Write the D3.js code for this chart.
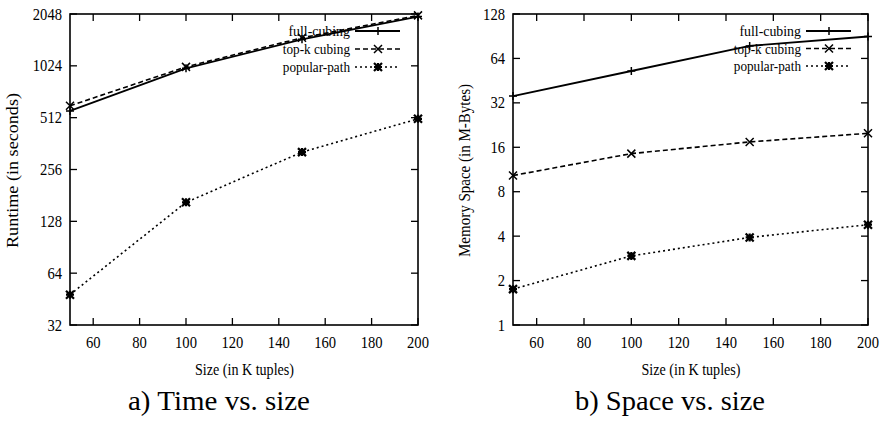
<!DOCTYPE html>
<html><head><meta charset="utf-8">
<script src="https://cdn.jsdelivr.net/npm/d3@7"></script>
<style>body{margin:0;background:#fff}svg{display:block}text{font-family:"Liberation Serif","Times New Roman",serif;fill:#000}</style>
</head><body><svg id="c" width="882" height="421"></svg>
<script>
const sizes = [50, 100, 150, 200];
const seriesNames = ["full-cubing", "top-k cubing", "popular-path"];
const timeFull = [560, 990, 1460, 1980];
const timeTopK = [600, 1010, 1490, 2010];
const timePopular = [48, 165, 323, 504];
const spaceFull = [35.6, 52.6, 77.8, 90.1];
const spaceTopK = [10.3, 14.5, 17.4, 19.9];
const spacePopular = [1.75, 2.94, 3.92, 4.78];
const xTicks = [60, 80, 100, 120, 140, 160, 180, 200];
const timeTicks = [32, 64, 128, 256, 512, 1024, 2048];
const spaceTicks = [1, 2, 4, 8, 16, 32, 64, 128];

const svg = d3.select("#c");
const dashes = [null, "5,3", "2,3"];
const markers = ["plus", "cross", "star"];

function marker(g, type, x, y) {
  const s = 4;
  let p = "";
  if (type === "plus") p = `M${x-s},${y}H${x+s}M${x},${y-s}V${y+s}`;
  else if (type === "cross") p = `M${x-s},${y-s}L${x+s},${y+s}M${x-s},${y+s}L${x+s},${y-s}`;
  else p = `M${x-s},${y-s}L${x+s},${y+s}M${x-s},${y+s}L${x+s},${y-s}M${x-s},${y}H${x+s}M${x},${y-s}V${y+s}`;
  g.append("path").attr("d", p).attr("stroke", "#000").attr("stroke-width", type === "star" ? 2.2 : 1.5).attr("fill", "none");
}

function tickText(g, x, y, anchor, t) {
  const s = String(t);
  g.append("text").attr("x", x).attr("y", y).attr("text-anchor", anchor).attr("font-size", 16)
    .attr("textLength", s.length * 7.3).attr("lengthAdjust", "spacingAndGlyphs").text(s);
}

function chart(cfg) {
  const {left, right, top, bottom, yDomain, yTicks, data, yTitle, yTitleLen, yTitleX, caption, captionLen, captionX, legendEnd, legendY, legendDy} = cfg;
  const x = d3.scaleLinear().domain([50, 200]).range([left, right]);
  const y = d3.scaleLog().base(2).domain(yDomain).range([bottom, top]);
  const g = svg.append("g");
  const tl = 7;
  xTicks.forEach(t => {
    g.append("line").attr("x1", x(t)).attr("x2", x(t)).attr("y1", bottom).attr("y2", bottom - tl).attr("stroke", "#000").attr("stroke-width", 1.3);
    g.append("line").attr("x1", x(t)).attr("x2", x(t)).attr("y1", top).attr("y2", top + tl).attr("stroke", "#000").attr("stroke-width", 1.3);
    tickText(g, x(t), bottom + 23, "middle", t);
  });
  yTicks.forEach(t => {
    g.append("line").attr("x1", left).attr("x2", left + tl).attr("y1", y(t)).attr("y2", y(t)).attr("stroke", "#000").attr("stroke-width", 1.3);
    g.append("line").attr("x1", right).attr("x2", right - tl).attr("y1", y(t)).attr("y2", y(t)).attr("stroke", "#000").attr("stroke-width", 1.3);
    tickText(g, left - 8, y(t) + 5.5, "end", t);
  });
  g.append("rect").attr("x", left).attr("y", top).attr("width", right - left).attr("height", bottom - top)
    .attr("fill", "none").attr("stroke", "#000").attr("stroke-width", 1.6);
  const line = d3.line().x((d, i) => x(sizes[i])).y(d => y(d));
  data.forEach((vals, k) => {
    g.append("path").attr("d", line(vals)).attr("fill", "none").attr("stroke", "#000")
      .attr("stroke-width", k === 0 ? 1.8 : 1.6).attr("stroke-dasharray", dashes[k]);
    vals.forEach((v, i) => marker(g, markers[k], x(sizes[i]), y(v)));
  });
  seriesNames.forEach((n, k) => {
    const ly = legendY + k * legendDy;
    g.append("text").attr("x", legendEnd).attr("y", ly + 5).attr("text-anchor", "end").attr("font-size", 15)
      .attr("textLength", n.length * 5.6).attr("lengthAdjust", "spacingAndGlyphs").text(n);
    g.append("line").attr("x1", legendEnd + 5).attr("x2", legendEnd + 50).attr("y1", ly).attr("y2", ly)
      .attr("stroke", "#000").attr("stroke-width", k === 0 ? 1.8 : 1.6).attr("stroke-dasharray", dashes[k]);
    marker(g, markers[k], legendEnd + 28, ly);
  });
  const mx = (left + right) / 2;
  g.append("text").attr("x", mx + 0.5).attr("y", bottom + 50).attr("text-anchor", "middle").attr("font-size", 16)
    .attr("textLength", 99).attr("lengthAdjust", "spacingAndGlyphs").text("Size (in K tuples)");
  g.append("text").attr("transform", `translate(${yTitleX},${(top + bottom) / 2 + 1}) rotate(-90)`)
    .attr("text-anchor", "middle").attr("font-size", 16)
    .attr("textLength", yTitleLen).attr("lengthAdjust", "spacingAndGlyphs").text(yTitle);
  g.append("text").attr("x", captionX).attr("y", 410).attr("text-anchor", "middle").attr("font-size", 27)
    .attr("textLength", captionLen).attr("lengthAdjust", "spacingAndGlyphs").text(caption);
}

chart({left: 70, right: 418, top: 14, bottom: 325, yDomain: [32, 2048], yTicks: timeTicks,
  data: [timeFull, timeTopK, timePopular], yTitle: "Runtime (in seconds)", yTitleLen: 155, yTitleX: 17.5,
  caption: "a) Time vs. size", captionLen: 182, captionX: 219,
  legendEnd: 350, legendY: 31, legendDy: 18});
chart({left: 513, right: 868, top: 14, bottom: 325, yDomain: [1, 128], yTicks: spaceTicks,
  data: [spaceFull, spaceTopK, spacePopular], yTitle: "Memory Space (in M-Bytes)", yTitleLen: 173, yTitleX: 469.5,
  caption: "b) Space vs. size", captionLen: 190, captionX: 670,
  legendEnd: 801, legendY: 31, legendDy: 17.5});
</script></body></html>
